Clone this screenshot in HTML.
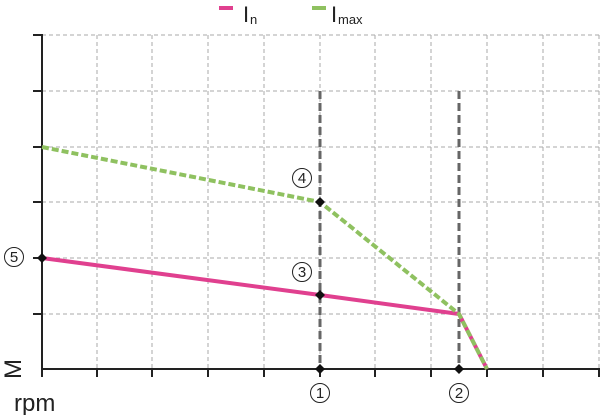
<!DOCTYPE html>
<html><head><style>body{margin:0;background:#fff}svg{display:block}text{font-family:"Liberation Sans",sans-serif}</style></head><body>
<svg width="600" height="415" viewBox="0 0 600 415">
<g stroke="#aaa" stroke-width="1" stroke-dasharray="4,3" fill="none">
<path d="M42 35H600M42 91H600M42 147H600M42 202H600M42 258H600M42 314H600"/>
<path d="M97 35V369M152 35V369M208 35V369M264 35V369M320 35V369M375 35V369M431 35V369M487 35V369M543 35V369M599 35V369"/>
</g>
<g stroke="#222" stroke-width="2" fill="none">
<path d="M33 35H42V369H600"/>
<path d="M33 91H42M33 147H42M33 202H42M33 258H42M33 314H42"/>
<path d="M42 369V377M97 369V377M152 369V377M208 369V377M264 369V377M320 369V377M375 369V377M431 369V377M487 369V377M543 369V377M599 369V377"/>
</g>
<g stroke="#666" stroke-width="3" stroke-dasharray="8,4"><path d="M320 91V369M459 91V369"/></g>
<polyline points="42,258 320,295 459,314 487,369" stroke="#e0408f" stroke-width="4" fill="none"/>
<polyline points="42,147 320,202 459,314 487,369" stroke="#8fc160" stroke-width="4" stroke-dasharray="7,3" fill="none"/>
<g fill="#111">
<path d="M320 364l5 5-5 5-5-5z"/><path d="M459 364l5 5-5 5-5-5z"/><path d="M320 290l5 5-5 5-5-5z"/><path d="M320 197l5 5-5 5-5-5z"/><path d="M42 253l5 5-5 5-5-5z"/>
</g>
<g fill="none" stroke="#222" stroke-width="1">
<circle cx="320" cy="393" r="9.5"/><circle cx="459" cy="393" r="9.5"/><circle cx="302" cy="272" r="9.5"/><circle cx="302" cy="178" r="9.5"/><circle cx="14" cy="257" r="9.5"/>
</g>
<g font-size="15" text-anchor="middle" fill="#222">
<text x="320" y="398">1</text><text x="459" y="398">2</text><text x="302" y="277">3</text><text x="302" y="183">4</text><text x="14" y="262">5</text>
</g>
<text x="14" y="411" font-size="24" fill="#222">rpm</text>
<text transform="translate(21,369) rotate(-90)" font-size="24" text-anchor="middle" fill="#222">M</text>
<rect x="219" y="6" width="14" height="4" fill="#e0408f"/>
<text x="243" y="22" font-size="22" fill="#222">I</text><text x="250" y="24" font-size="13" fill="#222">n</text>
<rect x="312" y="6" width="14" height="4" fill="#8fc160"/>
<text x="331" y="22" font-size="22" fill="#222">I</text><text x="338" y="24" font-size="13" fill="#222">max</text>
</svg>
</body></html>
